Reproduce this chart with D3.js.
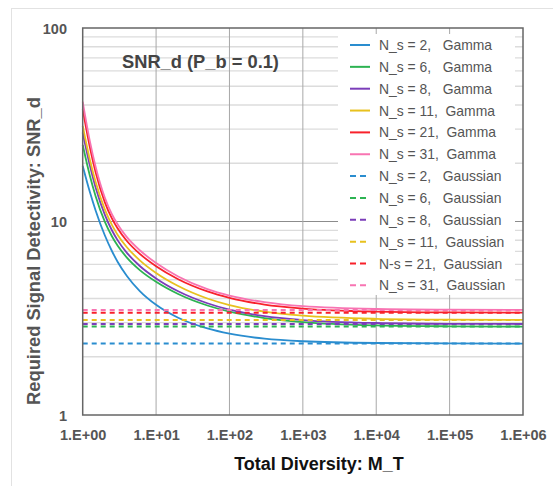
<!DOCTYPE html>
<html><head><meta charset="utf-8">
<script src="https://cdn.jsdelivr.net/npm/d3@7"></script>
<style>
html,body{margin:0;padding:0;background:#fff;}
svg{display:block;font-family:"Liberation Sans",Arial,Helvetica,sans-serif;}
</style></head>
<body>
<svg id="chart" width="553" height="486"></svg>
<script>
// ---- data ----
const diversity = [1, 1.25, 1.5, 2, 2.5, 3, 4, 6, 10, 20, 50, 100, 300, 1000, 1e4, 1e5, 1e6];
const ns2Gamma  = [19.40, 14.25, 11.41, 8.49, 7.04, 6.18, 5.23, 4.37, 3.71, 3.18, 2.80, 2.63, 2.48, 2.405, 2.355, 2.343, 2.34];
const ns6Gamma  = [24.90, 17.30, 13.52, 9.98, 8.39, 7.49, 6.51, 5.61, 4.88, 4.22, 3.68, 3.42, 3.17, 3.02, 2.905, 2.873, 2.864];
const ns8Gamma  = [28.80, 19.53, 15.00, 10.86, 9.01, 7.99, 6.89, 5.89, 5.08, 4.36, 3.78, 3.50, 3.24, 3.095, 2.988, 2.960, 2.953];
const ns11Gamma = [31.20, 20.92, 15.98, 11.55, 9.60, 8.52, 7.36, 6.30, 5.42, 4.64, 4.00, 3.70, 3.42, 3.26, 3.142, 3.111, 3.103];
const ns21Gamma = [38.00, 24.26, 17.98, 12.60, 10.38, 9.19, 7.93, 6.80, 5.87, 5.03, 4.35, 4.03, 3.72, 3.55, 3.425, 3.392, 3.383];
const ns31Gamma = [41.60, 26.10, 19.20, 13.30, 10.90, 9.65, 8.30, 7.10, 6.10, 5.20, 4.47, 4.14, 3.83, 3.65, 3.53, 3.50, 3.49];
const gaussianLevels = [2.34, 2.87, 2.95, 3.10, 3.38, 3.49];
const gammaLabels = ["N_s = 2,   Gamma", "N_s = 6,   Gamma", "N_s = 8,   Gamma", "N_s = 11,  Gamma", "N_s = 21,  Gamma", "N_s = 31,  Gamma"];
const gaussLabels = ["N_s = 2,   Gaussian", "N_s = 6,   Gaussian", "N_s = 8,   Gaussian", "N_s = 11,  Gaussian", "N-s = 21,  Gaussian", "N_s = 31,  Gaussian"];
const xTicks = [1, 10, 100, 1000, 1e4, 1e5, 1e6];
const xTickLabels = ["1.E+00", "1.E+01", "1.E+02", "1.E+03", "1.E+04", "1.E+05", "1.E+06"];
const yTicks = [1, 10, 100];
const yTickLabels = ["1", "10", "100"];
const colors = ["#2a8dcf", "#2db352", "#7b3db9", "#e8c11e", "#f8212b", "#f874b2"];
const titleText = "SNR_d (P_b = 0.1)";
const xTitle = "Total Diversity: M_T";
const yTitle = "Required Signal Detectivity: SNR_d";

const gammaSeries = [ns2Gamma, ns6Gamma, ns8Gamma, ns11Gamma, ns21Gamma, ns31Gamma];

// ---- layout ----
const L = 82.7, R = 523, T = 28, B = 415;
const svg = d3.select("#chart");
const x = d3.scaleLog().domain([1, 1e6]).range([L, R]);
const y = d3.scaleLog().domain([1, 100]).range([B, T]);

// outer frame (light)
svg.append("line").attr("x1", 11).attr("x2", 553).attr("y1", 8.5).attr("y2", 8.5).attr("stroke", "#e2e2e2").attr("stroke-width", 1);
svg.append("line").attr("x1", 11.5).attr("x2", 11.5).attr("y1", 8).attr("y2", 486).attr("stroke", "#e2e2e2").attr("stroke-width", 1);

// minor horizontal grid
const minor = [];
[1, 10].forEach(d => { for (let k = 2; k <= 9; k++) minor.push(d * k); });
svg.append("g").selectAll("line").data(minor).join("line")
  .attr("x1", L).attr("x2", R).attr("y1", d => y(d)).attr("y2", d => y(d))
  .attr("stroke", "#dcdcdc").attr("stroke-width", 1.3);
// major horizontal grid
svg.append("g").selectAll("line").data([10]).join("line")
  .attr("x1", L).attr("x2", R).attr("y1", d => y(d)).attr("y2", d => y(d))
  .attr("stroke", "#8c8c8c").attr("stroke-width", 1);
// vertical grid
svg.append("g").selectAll("line").data(xTicks.slice(1, -1)).join("line")
  .attr("x1", d => x(d)).attr("x2", d => x(d)).attr("y1", T).attr("y2", B)
  .attr("stroke", "#a8a8a8").attr("stroke-width", 1);

// legend background
svg.append("rect").attr("x", 338).attr("y", 34).attr("width", 177).attr("height", 261).attr("fill", "#fff");

// gamma curves
const line = d3.line().x(d => x(d[0])).y(d => y(d[1])).curve(d3.curveMonotoneX);
const plot = svg.append("g");
gammaSeries.forEach((vals, i) => {
  plot.append("path").datum(diversity.map((m, j) => [m, vals[j]]))
    .attr("d", line).attr("fill", "none").attr("stroke", colors[i]).attr("stroke-width", 1.8);
});
// gaussian dashed
gaussianLevels.forEach((v, i) => {
  plot.append("path").datum([[1, v], [1e6, v]])
    .attr("d", line).attr("fill", "none").attr("stroke", colors[i]).attr("stroke-width", 2)
    .attr("stroke-dasharray", "5,4");
});

// plot frame
svg.append("rect").attr("x", L).attr("y", T).attr("width", R - L).attr("height", B - T)
  .attr("fill", "none").attr("stroke", "#666").attr("stroke-width", 1.5);

// axes labels
const xAxis = d3.axisBottom(x).tickValues(xTicks).tickSize(0).tickPadding(0)
  .tickFormat((d, i) => xTickLabels[i]);
const gx = svg.append("g").attr("transform", `translate(0,${B})`).call(xAxis);
gx.select(".domain").remove();
gx.selectAll("text").attr("y", 25).attr("dy", 0).attr("font-size", 14.5).attr("font-weight", "bold")
  .attr("fill", "#555").attr("font-family", "Liberation Sans, Arial, sans-serif");

const yAxis = d3.axisLeft(y).tickValues(yTicks).tickSize(0).tickPadding(0)
  .tickFormat((d, i) => yTickLabels[i]);
const gy = svg.append("g").attr("transform", `translate(67,0)`).call(yAxis);
gy.select(".domain").remove();
gy.selectAll("text").attr("x", 0).attr("dy", "0.36em").attr("font-size", 14.5).attr("font-weight", "bold")
  .attr("fill", "#555").attr("font-family", "Liberation Sans, Arial, sans-serif");

// titles
svg.append("text").attr("x", 122).attr("y", 68).text(titleText)
  .attr("font-size", 18.3).attr("font-weight", "bold").attr("fill", "#444");
svg.append("text").attr("x", 319).attr("y", 470).attr("text-anchor", "middle").text(xTitle)
  .attr("font-size", 18).attr("font-weight", "bold").attr("fill", "#111");
svg.append("text").attr("transform", "translate(39.5,251) rotate(-90)").attr("text-anchor", "middle").text(yTitle)
  .attr("font-size", 18.3).attr("font-weight", "bold").attr("fill", "#555");

// legend
const lg = svg.append("g");
const allLabels = gammaLabels.concat(gaussLabels);
allLabels.forEach((lab, i) => {
  const yy = 45 + i * 21.85;
  const ci = i % 6;
  lg.append("line").attr("x1", 350).attr("x2", 370).attr("y1", yy).attr("y2", yy)
    .attr("stroke", colors[ci]).attr("stroke-width", 2)
    .attr("stroke-dasharray", i >= 6 ? "6,4" : null);
  lg.append("text").attr("x", 379).attr("y", yy).attr("dy", "0.36em")
    .attr("xml:space", "preserve").style("white-space", "pre")
    .attr("font-size", 13.9).attr("fill", "#555").text(lab);
});
</script>
</body></html>
